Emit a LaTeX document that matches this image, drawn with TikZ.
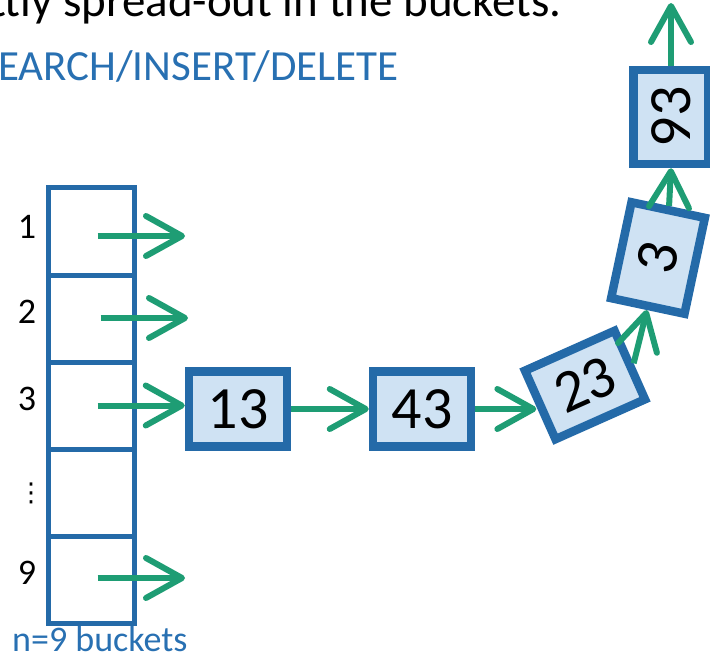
\documentclass[tikz,border=0pt]{standalone}
\usepackage{fontspec}
\setmainfont{Carlito}
\newfontfamily\symfont{DejaVu Sans}
\usetikzlibrary{arrows.meta}

\definecolor{bucketblue}{RGB}{36,106,168}
\definecolor{textblue}{RGB}{40,112,178}
\definecolor{itemfill}{RGB}{207,226,243}
\definecolor{ptrgreen}{RGB}{30,157,116}

\tikzset{
  bucket/.style={draw=bucketblue, line width=5pt, minimum width=86pt, minimum height=87pt, inner sep=0pt},
  item/.style={draw=bucketblue, fill=itemfill, line width=8.5pt, minimum width=98pt, minimum height=75pt, inner sep=0pt, font=\fontsize{60}{72}\selectfont},
  ptr/.style={draw=ptrgreen, line width=6pt, -{Straight Barb[length=36pt, width=40pt, round]}},
  idx/.style={inner sep=0pt, font=\fontsize{36}{43}\selectfont},
}

\begin{document}
\begin{tikzpicture}[x=1pt, y=-1pt]
        \useasboundingbox (0,0) rectangle (710,658);
        \clip (0,0) rectangle (710,658);

        % Heading lines
        \node[anchor=base east, inner sep=0pt, font=\fontsize{47}{56}\selectfont] (caption) at (562,17) {ttly spread-out in the buckets.};
        \node[anchor=base west, inner sep=0pt, text=textblue, font=\fontsize{43}{52}\selectfont] (ops) at (-2,81) {EARCH/INSERT/DELETE};

        % Bucket array
        \node[bucket] (b1) at (91.5,231.5) {};
        \node[bucket] (b2) at (91.5,318.5) {};
        \node[bucket] (b3) at (91.5,405.5) {};
        \node[bucket] (b4) at (91.5,492.5) {};
        \node[bucket] (b9) at (91.5,579.5) {};

        % Bucket indices
        \node[idx] (i1) at (27,227) {1};
        \node[idx] (i2) at (27,312) {2};
        \node[idx] (i3) at (27,399) {3};
        \node[idx, font=\symfont\fontsize{26}{30}\selectfont] (idots) at (31,493) {⋮};
        \node[idx] (i9) at (27,573) {9};

        \node[anchor=base west, inner sep=0pt, text=textblue, font=\fontsize{36}{43}\selectfont] (size) at (12,651) {n=9 buckets};

        % Chain hanging off bucket 3
        \node[item] (n13) at (238,409) {13};
        \node[item] (n43) at (422,409) {43};
        \node[item, rotate=24] (n23) at (585,385) {23};
        \node[item, rotate=78] (n3) at (658,258) {3};
        \node[item, rotate=90, minimum width=94pt] (n93) at (671,117) {93};

        % Loose pointer ends
        \coordinate (e1) at (185,236);
        \coordinate (e2) at (188,318);
        \coordinate (e9) at (185,578);
        \coordinate (nil) at (671,3);

        % Pointers
        \draw[ptr] ([xshift=6pt]e1 -| b1.center) -- (e1);
        \draw[ptr] ([xshift=9pt]e2 -| b2.center) -- (e2);
        \draw[ptr] ([xshift=6pt]e9 -| b9.center) -- (e9);
        \draw[ptr] ([xshift=6pt]b3.center) -- (b3.center -| n13.west);
        \draw[ptr] (n13) -- (n43);
        \draw[ptr] (n43.east) -- (n43.east -| n23.west);
        \draw[ptr] (n23.east) -- (n3.west);
        \draw[ptr] (n3.east) -- (n93.west);
        \draw[ptr] (n93.east) -- (nil);
\end{tikzpicture}
\end{document}
